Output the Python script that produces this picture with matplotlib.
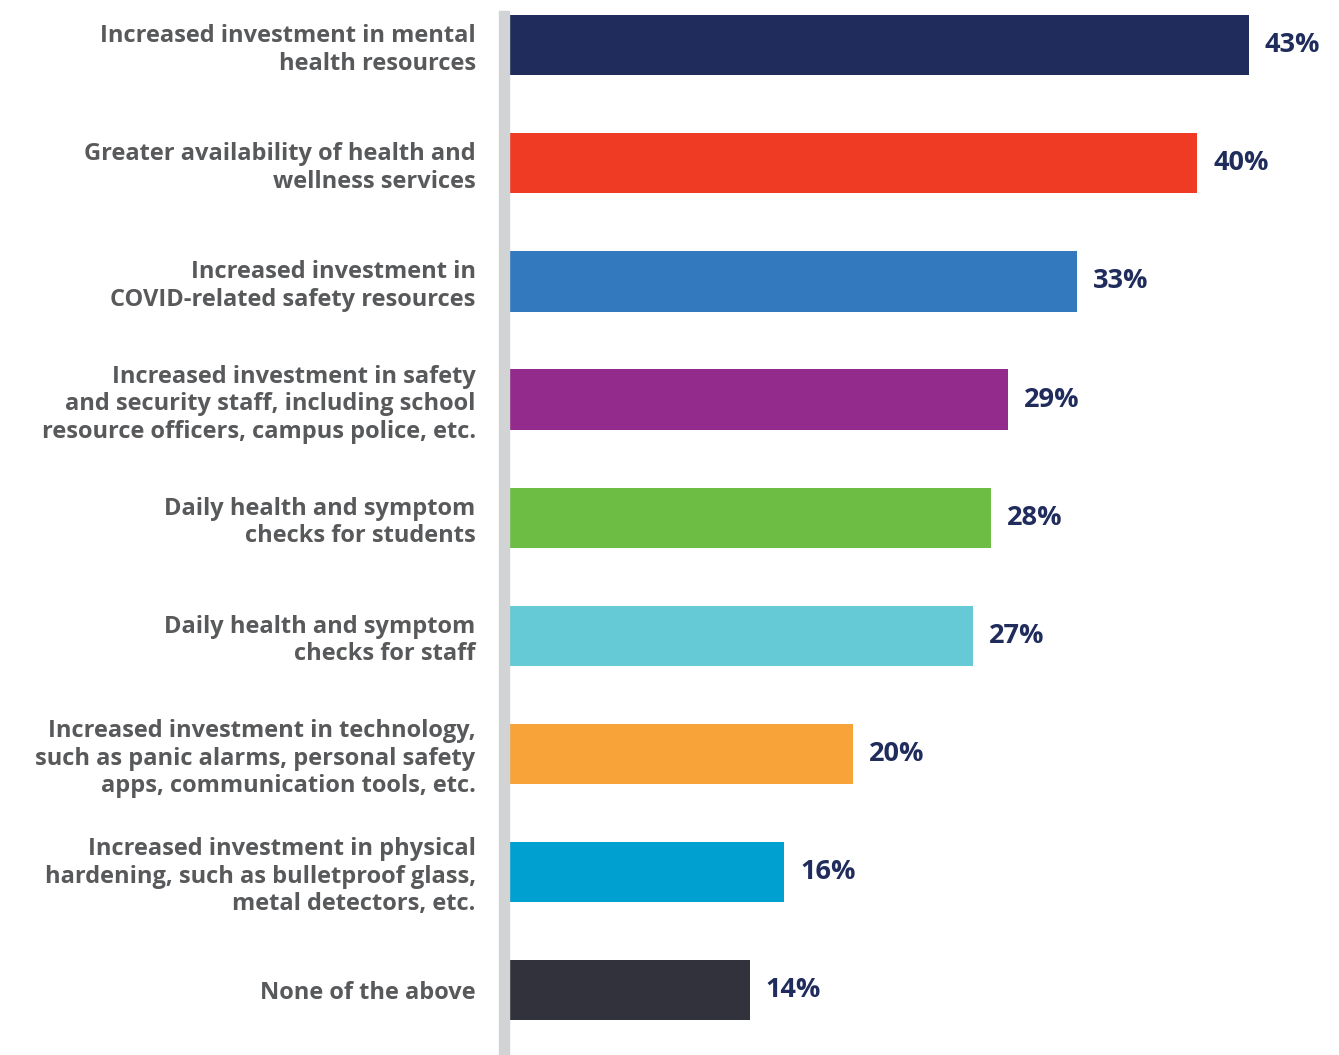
import matplotlib.pyplot as plt
from matplotlib.patches import Rectangle

categories = [
    "Increased investment in mental\nhealth resources",
    "Greater availability of health and\nwellness services",
    "Increased investment in\nCOVID-related safety resources",
    "Increased investment in safety\nand security staff, including school\nresource officers, campus police, etc.",
    "Daily health and symptom\nchecks for students",
    "Daily health and symptom\nchecks for staff",
    "Increased investment in technology,\nsuch as panic alarms, personal safety\napps, communication tools, etc.",
    "Increased investment in physical\nhardening, such as bulletproof glass,\nmetal detectors, etc.",
    "None of the above",
]
values = [43, 40, 33, 29, 28, 27, 20, 16, 14]
colors = ["#1f2c5c", "#ef3b24", "#3379be", "#922b8c", "#6dbd45",
          "#65c9d6", "#f7a33a", "#00a0d0", "#32323c"]

W, H = 1339, 1055
fig = plt.figure(figsize=(W / 100, H / 100), dpi=100)
ax = fig.add_axes([509 / W, 0, 1 - 509 / W, (H - 11) / H])

ypos = list(range(len(values)))
ax.barh(ypos, values, height=0.51, color=colors)
ax.set_ylim(8.55, -0.29)
ax.set_xlim(0, 830 / 17.2)

for y, v in zip(ypos, values):
    ax.annotate(f"{v}%", (v, y), xytext=(16, 0), textcoords="offset pixels",
                va="center", ha="left", fontsize=19.5, fontweight="bold",
                color="#1f2c5c", family="Open Sans")

ax.set_yticks(ypos)
ax.set_yticklabels(categories, fontsize=17, fontweight="bold", color="#58595b",
                   family="Open Sans", linespacing=1.2, ha="right")
ax.tick_params(axis="y", length=0, pad=24)
ax.set_xticks([])
for s in ax.spines.values():
    s.set_visible(False)

# grey baseline strip to the left of the bars
fig.patches.append(Rectangle((499 / W, 0), 10 / W, (H - 11) / H,
                             transform=fig.transFigure, color="#d1d3d4", zorder=0))

fig.savefig("out.png", dpi=100, facecolor="white")
